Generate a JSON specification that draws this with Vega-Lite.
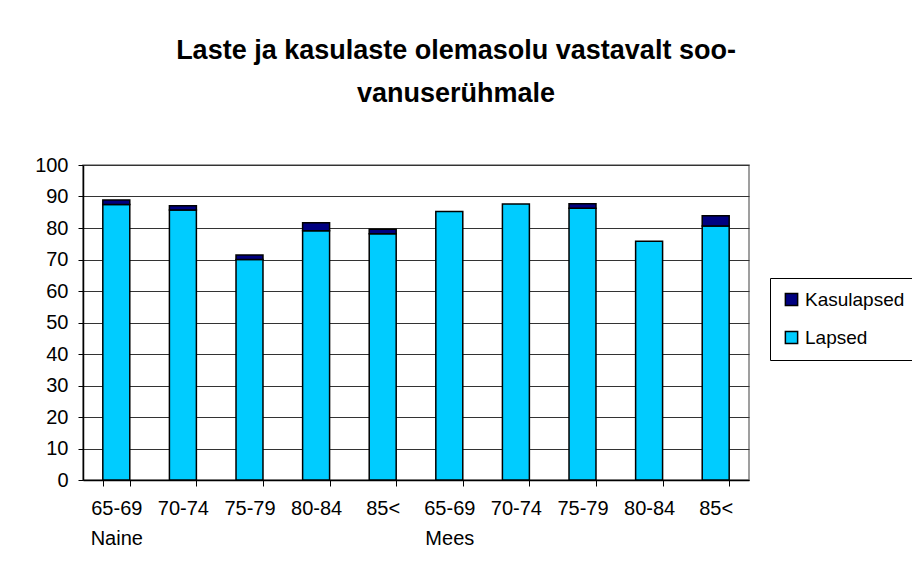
{
  "$schema": "https://vega.github.io/schema/vega-lite/v6.json",
  "width": 666,
  "height": 315,
  "autosize": "none",
  "padding": {"left": 83, "top": 165, "right": 163, "bottom": 95},
  "background": "white",
  "title": {
    "text": ["Laste ja kasulaste olemasolu vastavalt soo-", "vanuserühmale"],
    "font": "Liberation Sans",
    "fontSize": 27,
    "fontWeight": "bold",
    "color": "black",
    "anchor": "middle",
    "dx": 40,
    "lineHeight": 43,
    "offset": 47
  },
  "config": {
    "view": {"stroke": "#808080", "strokeWidth": 1.5},
    "font": "Liberation Sans"
  },
  "data": {
    "values": [
      {"key": "65-69 Naine", "series": "Lapsed", "value": 87.5},
      {"key": "65-69 Naine", "series": "Kasulapsed", "value": 1.4},
      {"key": "70-74 Naine", "series": "Lapsed", "value": 85.7},
      {"key": "70-74 Naine", "series": "Kasulapsed", "value": 1.4},
      {"key": "75-79 Naine", "series": "Lapsed", "value": 70.0},
      {"key": "75-79 Naine", "series": "Kasulapsed", "value": 1.4},
      {"key": "80-84 Naine", "series": "Lapsed", "value": 79.1},
      {"key": "80-84 Naine", "series": "Kasulapsed", "value": 2.6},
      {"key": "85< Naine", "series": "Lapsed", "value": 78.2},
      {"key": "85< Naine", "series": "Kasulapsed", "value": 1.4},
      {"key": "65-69 Mees", "series": "Lapsed", "value": 85.2},
      {"key": "70-74 Mees", "series": "Lapsed", "value": 87.6},
      {"key": "75-79 Mees", "series": "Lapsed", "value": 86.3},
      {"key": "75-79 Mees", "series": "Kasulapsed", "value": 1.4},
      {"key": "80-84 Mees", "series": "Lapsed", "value": 75.8},
      {"key": "85< Mees", "series": "Lapsed", "value": 80.6},
      {"key": "85< Mees", "series": "Kasulapsed", "value": 3.3}
    ]
  },
  "mark": {"type": "bar", "stroke": "black", "strokeWidth": 1.5},
  "encoding": {
    "x": {
      "field": "key",
      "type": "nominal",
      "sort": ["65-69 Naine", "70-74 Naine", "75-79 Naine", "80-84 Naine", "85< Naine", "65-69 Mees", "70-74 Mees", "75-79 Mees", "80-84 Mees", "85< Mees"],
      "scale": {"paddingInner": 0.595, "paddingOuter": 0.2975},
      "axis": {
        "title": null,
        "labelAngle": 0,
        "labelExpr": "indexof(datum.label, '65-69') == 0 ? split(datum.label, ' ') : split(datum.label, ' ')[0]",
        "labelFont": "Liberation Sans",
        "labelFontSize": 20,
        "labelColor": "black",
        "labelLineHeight": 30,
        "labelPadding": 12,
        "labelBaseline": "top",
        "tickBand": "extent",
        "tickColor": "black",
        "tickSize": 6,
        "domainColor": "black",
        "domainWidth": 1.5
      }
    },
    "y": {
      "field": "value",
      "type": "quantitative",
      "stack": "zero",
      "scale": {"domain": [0, 100], "nice": false},
      "axis": {
        "title": null,
        "values": [0, 10, 20, 30, 40, 50, 60, 70, 80, 90, 100],
        "labelFont": "Liberation Sans",
        "labelFontSize": 20,
        "labelColor": "black",
        "labelPadding": 10,
        "tickColor": "black",
        "tickSize": 5,
        "domainColor": "black",
        "domainWidth": 1.5,
        "grid": true,
        "gridColor": "#333333",
        "gridWidth": 1
      }
    },
    "color": {
      "field": "series",
      "type": "nominal",
      "scale": {"domain": ["Kasulapsed", "Lapsed"], "range": ["#000080", "#00CCFF"]},
      "legend": {
        "title": null,
        "orient": "none",
        "legendX": 687,
        "legendY": 113,
        "strokeColor": "black",
        "padding": 12,
        "symbolType": "square",
        "symbolSize": 150,
        "symbolStrokeColor": "black",
        "symbolStrokeWidth": 1.5,
        "labelFont": "Liberation Sans",
        "labelFontSize": 19,
        "labelColor": "black",
        "rowPadding": 18,
        "labelOffset": 4
      }
    },
    "order": {"field": "series", "sort": "descending"}
  }
}
